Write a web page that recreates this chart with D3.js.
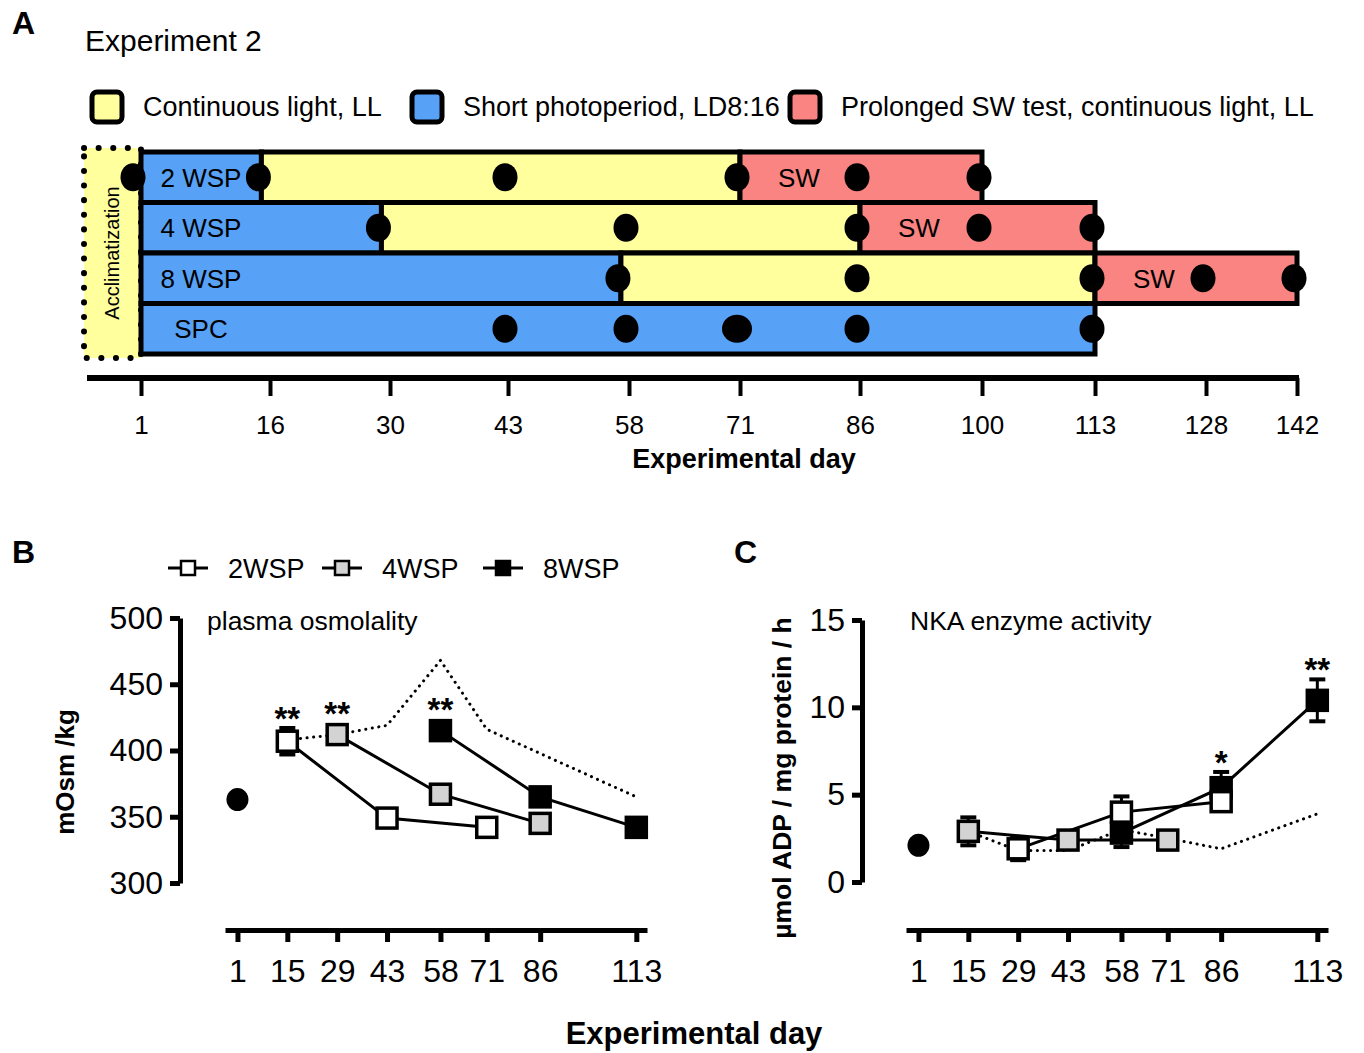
<!DOCTYPE html>
<html><head><meta charset="utf-8">
<script src="https://cdn.jsdelivr.net/npm/d3@7"></script>
<style>
body{margin:0;background:#fff}
text{font-family:"Liberation Sans",Arial,sans-serif;fill:#000}
</style>
</head><body>
<svg id="c" width="1364" height="1053"></svg>
<script>
// ================= DATA =================
// Panel A – experimental design
const dayTicksA = [1,16,30,43,58,71,86,100,113,128,142];
const groupsA = ["2 WSP","4 WSP","8 WSP","SPC"];
const spEndA = [15,29,57,113];          // end of short photoperiod (LD8:16)
const llEndA = [71,86,113,null];        // end of continuous light
const swEndA = [100,113,142,null];      // end of prolonged SW test
const samplingA = [[1,15,43,71,86,100],[29,58,86,100,113],[57,86,113,128,142],[43,58,71,86,113]];
const doubleSampleA = [{group:"SPC",day:71}];
const legendA = ["Continuous light, LL","Short photoperiod, LD8:16","Prolonged SW test, continuous light, LL"];

// Panels B & C shared
const daysBC = [1,15,29,43,58,71,86,113];
const seriesNames = ["2WSP","4WSP","8WSP"];

// Panel B – plasma osmolality (mOsm/kg)
const osmStart = {day:1,val:363};
const osmDays2 = [15,43,71], osmVal2 = [407,349,342], osmErr2 = [10,3,3];
const osmDays4 = [29,58,86], osmVal4 = [412,367,345], osmErr4 = [3,4,3];
const osmDays8 = [58,86,113], osmVal8 = [415,365,342], osmErr8 = [3,4,3];
const osmSpcDays = [15,29,43,58,71,113], osmSpcVal = [408,412,419,468,416,365];
const osmYTicks = [300,350,400,450,500];
const osmStars = [{series:"2WSP",day:15,label:"**"},{series:"4WSP",day:29,label:"**"},{series:"8WSP",day:58,label:"**"}];

// Panel C – NKA activity (µmol ADP / mg protein / h)
const nkaStart = {day:1,val:2.1};
const nkaDaysG = [15,43,71], nkaValG = [2.9,2.4,2.4], nkaErrG = [0.8,0.2,0.2];
const nkaDaysW = [29,58,86], nkaValW = [1.9,4.0,4.6], nkaErrW = [0.65,0.9,0.4];
const nkaDaysK = [58,86,113], nkaValK = [2.8,5.4,10.4], nkaErrK = [0.8,0.9,1.2];
const nkaSpcDays = [15,29,43,58,71,86,113], nkaSpcVal = [2.9,1.8,1.8,3.0,2.5,1.9,3.9];
const nkaYTicks = [0,5,10,15];
const nkaStars = [{series:"K",day:86,label:"*"},{series:"K",day:113,label:"**"}];

// ================= LAYOUT / STYLE =================
const FONT = '"Liberation Sans",Arial,sans-serif';
const colLL = "#FFFF9E", colSP = "#57A1F7", colSW = "#F98481";
const tickPxA = [141,270,390,508,629,740,860,982,1095,1206,1297];
const legendXA = [92,412,790];

const svg = d3.select("#c");

function styleAxis(g, fs, sw){
  g.attr("font-family", FONT).attr("font-size", fs);
  g.selectAll("path.domain").attr("stroke","#000").attr("stroke-width",sw);
  g.selectAll(".tick line").attr("stroke","#000").attr("stroke-width",sw);
  g.selectAll(".tick text").attr("fill","#000");
}

// ---------- Panel A ----------
svg.append("text").attr("x",12).attr("y",34).attr("font-size",32).attr("font-weight","bold").text("A");
svg.append("text").attr("x",85).attr("y",51).attr("font-size",30).text("Experiment 2");

const legFill = [colLL, colSP, colSW];
legendA.forEach((t,i)=>{
  svg.append("rect").attr("x",legendXA[i]).attr("y",92).attr("width",30).attr("height",30).attr("rx",5)
    .attr("fill",legFill[i]).attr("stroke","#000").attr("stroke-width",5);
  svg.append("text").attr("x",legendXA[i]+51).attr("y",116).attr("font-size",27).text(t);
});

const xA = d3.scaleLinear().domain(dayTicksA).range(tickPxA);
const yA = d3.scaleBand().domain(groupsA).range([152,354]);
const bw = yA.bandwidth();

// acclimatization box
const gA = svg.append("g");
gA.append("rect").attr("x",xA(1)-57).attr("y",yA(groupsA[0])-4).attr("width",57).attr("height",bw*4+8)
  .attr("fill",colLL).attr("stroke","#000").attr("stroke-width",6)
  .attr("stroke-dasharray","0.1 14.5").attr("stroke-linecap","round");
gA.append("text").attr("transform",`translate(${xA(1)-22},${yA(groupsA[1])+bw}) rotate(-90)`)
  .attr("text-anchor","middle").attr("font-size",20).text("Acclimatization");

const segs = [];
groupsA.forEach((g,i)=>{
  segs.push({g, s:1, e:spEndA[i], fill:colSP});
  if(llEndA[i]!=null) segs.push({g, s:spEndA[i], e:llEndA[i], fill:colLL});
  if(swEndA[i]!=null) segs.push({g, s:llEndA[i], e:swEndA[i], fill:colSW});
});
gA.selectAll("rect.seg").data(segs).join("rect").attr("class","seg")
  .attr("x",d=>xA(d.s)).attr("width",d=>xA(d.e)-xA(d.s))
  .attr("y",d=>yA(d.g)).attr("height",bw)
  .attr("fill",d=>d.fill).attr("stroke","#000").attr("stroke-width",5);

gA.selectAll("text.rowlab").data(groupsA).join("text").attr("class","rowlab")
  .attr("x",xA(1)+60).attr("y",d=>yA(d)+bw/2+9.5).attr("text-anchor","middle").attr("font-size",26).text(d=>d);

gA.selectAll("text.sw").data(groupsA.filter((g,i)=>swEndA[i]!=null)).join("text").attr("class","sw")
  .attr("x",d=>xA(llEndA[groupsA.indexOf(d)])+38).attr("y",d=>yA(d)+bw/2+9.5).attr("font-size",26).text("SW");

const dots = [];
groupsA.forEach((g,i)=>samplingA[i].forEach(day=>dots.push({g,day,
  big: doubleSampleA.some(d=>d.group===g && d.day===day)})));
gA.selectAll("ellipse").data(dots).join("ellipse")
  .attr("cx",d=>xA(d.day)-(d.day===1?8:3)).attr("cy",d=>yA(d.g)+bw/2)
  .attr("rx",d=>d.big?15:12.5).attr("ry",14).attr("fill","#000");

// axis A
const axA = svg.append("g").attr("transform","translate(0,378)");
axA.call(d3.axisBottom(xA).tickValues(dayTicksA).tickSize(18).tickSizeOuter(0).tickPadding(20));
axA.select("path.domain").remove();
styleAxis(axA, 26, 4);
axA.append("line").attr("x1",xA(1)-54).attr("x2",xA(142)+2).attr("stroke","#000").attr("stroke-width",6);
svg.append("text").attr("x",744).attr("y",468).attr("text-anchor","middle").attr("font-size",27).attr("font-weight","bold").text("Experimental day");

// ---------- Panels B & C ----------
function mk(days, vals, errs){ return days.map((d,i)=>({day:d,val:vals[i],err:errs?errs[i]:0})); }

function panel(opts){
  const {xs, ys, axisX, yTicks, series, spc, start, stars, title, titleX} = opts;
  const g = svg.append("g");
  const ay = g.append("g").attr("transform",`translate(${axisX},0)`)
    .call(d3.axisLeft(ys).tickValues(yTicks).tickSize(10).tickSizeOuter(0).tickPadding(7));
  styleAxis(ay, 32, 5);
  const ax = g.append("g").attr("transform","translate(0,930)")
    .call(d3.axisBottom(xs).tickValues(daysBC).tickSize(12).tickSizeOuter(0).tickPadding(17));
  styleAxis(ax, 32, 5);
  g.append("text").attr("x",titleX).attr("y",630).attr("font-size",26.5).text(title);
  const line = d3.line().x(d=>xs(d.day)).y(d=>ys(d.val));
  g.append("path").attr("d",line(spc)).attr("fill","none").attr("stroke","#000")
    .attr("stroke-width",3).attr("stroke-dasharray","0.1 6.5").attr("stroke-linecap","round");
  series.forEach(s=>{
    g.append("path").attr("d",line(s.data)).attr("fill","none").attr("stroke","#000").attr("stroke-width",3);
  });
  series.forEach(s=>{
    const eb = g.selectAll(null).data(s.data).join("g");
    eb.append("line").attr("x1",d=>xs(d.day)).attr("x2",d=>xs(d.day))
      .attr("y1",d=>ys(d.val-d.err)).attr("y2",d=>ys(d.val+d.err)).attr("stroke","#000").attr("stroke-width",3);
    [-1,1].forEach(sg=>eb.append("line").attr("x1",d=>xs(d.day)-8).attr("x2",d=>xs(d.day)+8)
      .attr("y1",d=>ys(d.val+sg*d.err)).attr("y2",d=>ys(d.val+sg*d.err)).attr("stroke","#000").attr("stroke-width",4));
    eb.append("rect").attr("x",d=>xs(d.day)-10).attr("y",d=>ys(d.val)-10).attr("width",20).attr("height",20)
      .attr("fill",s.fill).attr("stroke","#000").attr("stroke-width",3.5);
  });
  g.append("ellipse").attr("cx",xs(start.day)).attr("cy",ys(start.val)).attr("rx",11).attr("ry",11.5).attr("fill","#000");
  stars.forEach(st=>{
    const s = series.find(q=>q.key===st.series);
    const p = s.data.find(d=>d.day===st.day);
    const top = Math.min(ys(p.val+p.err), ys(p.val)-12);
    g.append("text").attr("x",xs(p.day)).attr("y",top+2).attr("text-anchor","middle")
      .attr("font-size",33).attr("font-weight","bold").text(st.label);
  });
  return g;
}

const xB = d3.scaleLinear().domain([-2.5,116]).range([225,647]);
const yB = d3.scaleLinear().domain([300,500]).range([883,618]);
panel({xs:xB, ys:yB, axisX:180, yTicks:osmYTicks,
  series:[
    {key:"2WSP", fill:"#fff", data:mk(osmDays2,osmVal2,osmErr2)},
    {key:"4WSP", fill:"#D3D3D3", data:mk(osmDays4,osmVal4,osmErr4)},
    {key:"8WSP", fill:"#000", data:mk(osmDays8,osmVal8,osmErr8)}],
  spc:mk(osmSpcDays,osmSpcVal), start:osmStart, stars:osmStars,
  title:"plasma osmolality", titleX:207});

const xC = d3.scaleLinear().domain([-2.5,116]).range([906,1328]);
const yC = d3.scaleLinear().domain([0,15]).range([882,620]);
panel({xs:xC, ys:yC, axisX:862, yTicks:nkaYTicks,
  series:[
    {key:"K", fill:"#000", data:mk(nkaDaysK,nkaValK,nkaErrK)},
    {key:"G", fill:"#D3D3D3", data:mk(nkaDaysG,nkaValG,nkaErrG)},
    {key:"W", fill:"#fff", data:mk(nkaDaysW,nkaValW,nkaErrW)}],
  spc:mk(nkaSpcDays,nkaSpcVal), start:nkaStart, stars:nkaStars,
  title:"NKA enzyme activity", titleX:910});

svg.append("text").attr("x",12).attr("y",563).attr("font-size",32).attr("font-weight","bold").text("B");
svg.append("text").attr("x",734).attr("y",563).attr("font-size",32).attr("font-weight","bold").text("C");
svg.append("text").attr("transform","translate(74,772) rotate(-90)").attr("text-anchor","middle")
  .attr("font-size",26).attr("font-weight","bold").text("mOsm /kg");
svg.append("text").attr("transform","translate(791,778) rotate(-90)").attr("text-anchor","middle")
  .attr("font-size",26.5).attr("font-weight","bold").text("µmol ADP / mg protein / h");
svg.append("text").attr("x",694).attr("y",1044).attr("text-anchor","middle")
  .attr("font-size",31).attr("font-weight","bold").text("Experimental day");

const legFillB = ["#fff","#D3D3D3","#000"];
const legXB = [168,322,483];
seriesNames.forEach((n,i)=>{
  const lg = svg.append("g").attr("transform",`translate(${legXB[i]},568)`);
  lg.append("line").attr("x1",0).attr("x2",40).attr("stroke","#000").attr("stroke-width",3);
  lg.append("rect").attr("x",13).attr("y",-7).attr("width",14).attr("height",14)
    .attr("fill",legFillB[i]).attr("stroke","#000").attr("stroke-width",2.5);
  lg.append("text").attr("x",60).attr("y",10).attr("font-size",27).text(n);
});
</script>
</body></html>
